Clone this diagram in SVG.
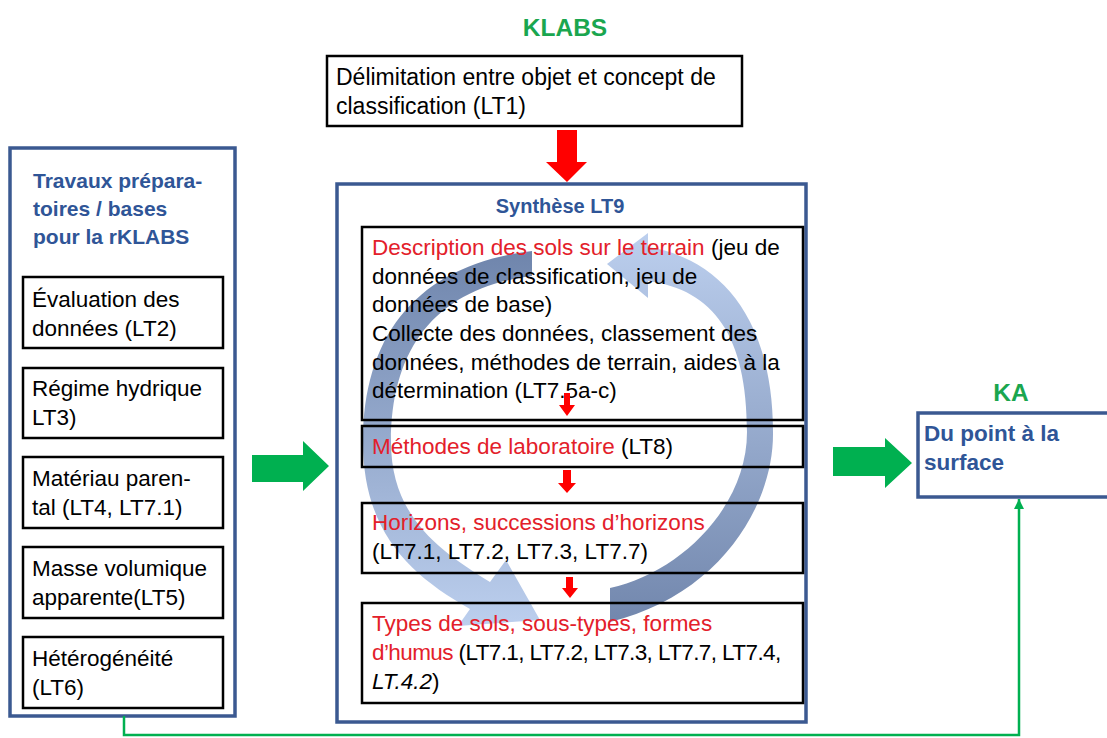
<svg xmlns="http://www.w3.org/2000/svg" width="1107" height="738" viewBox="0 0 1107 738">
<style>
.t{font-family:"Liberation Sans",Arial,sans-serif;font-size:22.5px;fill:#000}
.r{fill:#e3202a}
.bt{font-family:"Liberation Sans",Arial,sans-serif;font-weight:bold;fill:#2f5597}
.gt{font-family:"Liberation Sans",Arial,sans-serif;font-weight:bold;fill:#1aa64f;font-size:24.5px;text-anchor:middle}
.bb{fill:#fff;stroke:#3b5991;stroke-width:3.5}
.kb{fill:#fff;stroke:#000;stroke-width:2.5}
.kn{fill:none;stroke:#000;stroke-width:2.5}
.ga{fill:#00b050}
.ra{fill:#ff0000}
</style>
<defs>
<linearGradient id="gL" gradientUnits="userSpaceOnUse" x1="0" y1="251" x2="0" y2="626">
<stop offset="0" stop-color="#6f85ac"/><stop offset="1" stop-color="#bccfee"/>
</linearGradient>
<linearGradient id="gR" gradientUnits="userSpaceOnUse" x1="0" y1="622" x2="0" y2="233">
<stop offset="0" stop-color="#7287ad"/><stop offset="1" stop-color="#bccfee"/>
</linearGradient>
<marker id="ah" markerUnits="userSpaceOnUse" markerWidth="10" markerHeight="10" refX="10" refY="5" orient="auto">
<path d="M0,0 L10,5 L0,10 z" fill="#00b050"/>
</marker>
</defs>

<text class="gt" x="565" y="36">KLABS</text>
<text class="gt" x="1011" y="401">KA</text>

<g id="lt1">
<rect class="kb" x="327" y="56" width="415" height="70"/>
<text class="t" x="336" y="85" style="font-size:23px">Délimitation entre objet et concept de</text>
<text class="t" x="336" y="114" style="font-size:23px">classification (LT1)</text>
</g>

<g id="travaux">
<rect class="bb" x="10" y="148" width="225" height="568"/>
<text class="bt" x="33" y="188" font-size="21">Travaux prépara-</text>
<text class="bt" x="33" y="216" font-size="21">toires / bases</text>
<text class="bt" x="33" y="244" font-size="21">pour la rKLABS</text>
</g>
<g id="lt2">
<rect class="kb" x="23" y="277" width="200" height="71"/>
<text class="t" x="32" y="307">Évaluation des</text>
<text class="t" x="32" y="336">données (LT2)</text>
</g>
<g id="lt3">
<rect class="kb" x="23" y="368" width="200" height="70"/>
<text class="t" x="32" y="396">Régime hydrique</text>
<text class="t" x="32" y="425">LT3)</text>
</g>
<g id="lt4">
<rect class="kb" x="23" y="457" width="200" height="71"/>
<text class="t" x="32" y="486">Matériau paren-</text>
<text class="t" x="32" y="515">tal (LT4, LT7.1)</text>
</g>
<g id="lt5">
<rect class="kb" x="23" y="547" width="200" height="71"/>
<text class="t" x="32" y="576">Masse volumique</text>
<text class="t" x="32" y="605">apparente(LT5)</text>
</g>
<g id="lt6">
<rect class="kb" x="23" y="637" width="200" height="71"/>
<text class="t" x="32" y="666">Hétérogénéité</text>
<text class="t" x="32" y="695">(LT6)</text>
</g>

<g id="synthese">
<rect class="bb" x="337" y="184" width="469" height="538"/>
<text class="bt" x="560" y="213" font-size="20" text-anchor="middle">Synthèse LT9</text>
</g>

<g id="ka">
<rect class="bb" x="918" y="413" width="200" height="84"/>
<text class="bt" x="924" y="441" font-size="22.5">Du point à la</text>
<text class="bt" x="924" y="470" font-size="22.5">surface</text>
</g>

<g id="cycle">
<path fill="url(#gL)" d="M532,251 C422,264 363,330 363,442 C363,532 410,575 470,609 L458,626 L540,620 L506,560 L490,582 C440,551 391,517 391,442 C391,347 437,288 532,276 Z"/>
<path fill="url(#gR)" d="M610,622 C720,595 774,505 773,432 C773,322 723,259 648,247 L648,233 L607,264 L648,298 L648,281 C714,290 747,336 747,432 C747,507 680,573 610,588 Z"/>
</g>

<g id="description">
<rect class="kn" x="362" y="227" width="441" height="193"/>
<text class="t" x="372" y="255"><tspan class="r">Description des sols sur le terrain</tspan> (jeu de</text>
<text class="t" x="372" y="284">données de classification, jeu de</text>
<text class="t" x="372" y="312">données de base)</text>
<text class="t" x="372" y="341">Collecte des données, classement des</text>
<text class="t" x="372" y="370">données, méthodes de terrain, aides à la</text>
<text class="t" x="372" y="398">détermination (LT7.5a-c)</text>
</g>
<g id="methodes">
<rect class="kn" x="362" y="426" width="441" height="41"/>
<text class="t" x="372" y="454"><tspan class="r">Méthodes de laboratoire</tspan> (LT8)</text>
</g>
<g id="horizons">
<rect class="kn" x="362" y="503" width="441" height="70"/>
<text class="t r" x="372" y="530">Horizons, successions d’horizons</text>
<text class="t" x="372" y="559">(LT7.1, LT7.2, LT7.3, LT7.7)</text>
</g>
<g id="types">
<rect class="kn" x="362" y="603" width="441" height="100"/>
<text class="t r" x="372" y="631">Types de sols, sous-types, formes</text>
<text class="t" x="372" y="660" letter-spacing="-0.6"><tspan class="r">d’humus</tspan> (LT7.1, LT7.2, LT7.3, LT7.7, LT7.4,</text>
<text class="t" x="372" y="689"><tspan font-style="italic">LT.4.2</tspan>)</text>
</g>

<g id="connectors">
<polygon class="ra" points="557,130 577,130 577,162 587,162 567,182 546,162 557,162"/>
<polygon class="ra" points="564,393 570,393 570,405 575,405 567,416 559,405 564,405"/>
<polygon class="ra" points="563,470 571,470 571,483 576,483 567,493 558,483 563,483"/>
<polygon class="ra" points="566,577 573,577 573,588 578,588 570,598 562,588 566,588"/>
<polygon class="ga" points="252,455 303,455 303,441 329,466 303,491 303,482 252,482"/>
<polygon class="ga" points="833,447 885,447 885,438 912,463 885,488 885,476 833,476"/>
<polyline points="124,716 124,735 1019,735 1019,499" fill="none" stroke="#00b050" stroke-width="2.5" marker-end="url(#ah)"/>
</g>
</svg>
